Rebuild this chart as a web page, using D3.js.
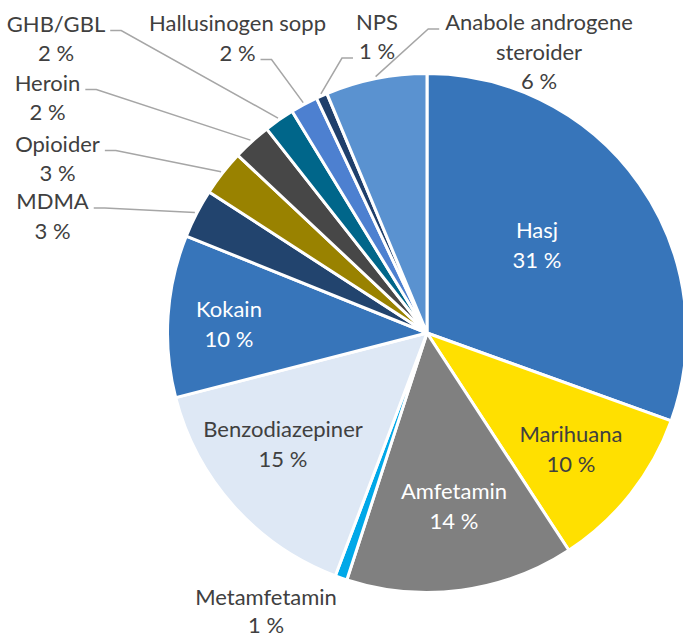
<!DOCTYPE html>
<html>
<head>
<meta charset="utf-8">
<script src="https://cdn.jsdelivr.net/npm/d3@7"></script>
<style>
  html, body { margin: 0; padding: 0; background: #ffffff; }
  svg { display: block; }
  text { font-family: "Lato", "Open Sans", sans-serif; }
</style>
</head>
<body>
<script>
// ---- data ----
const categories = ["Hasj", "Marihuana", "Amfetamin", "Metamfetamin", "Benzodiazepiner", "Kokain",
  "MDMA", "Opioider", "Heroin", "GHB/GBL", "Hallusinogen sopp", "NPS", "Anabole androgene steroider"];
const values = [30.5, 10.3, 14.2, 0.75, 15.25, 10.1, 3.05, 2.86, 2.4, 1.9, 1.7, 0.7, 6.3];
const percentLabels = ["31 %", "10 %", "14 %", "1 %", "15 %", "10 %", "3 %", "3 %", "2 %", "2 %", "2 %", "1 %", "6 %"];
const nameLines = [["Hasj"], ["Marihuana"], ["Amfetamin"], ["Metamfetamin"], ["Benzodiazepiner"], ["Kokain"],
  ["MDMA"], ["Opioider"], ["Heroin"], ["GHB/GBL"], ["Hallusinogen sopp"], ["NPS"], ["Anabole androgene", "steroider"]];

// ---- styles / layout ----
const colors = ["#3775BA", "#FFE000", "#808080", "#00A8E8", "#DEE8F5", "#3775BA",
  "#22446E", "#998200", "#474747", "#00668A", "#4D80D0", "#1F3F6B", "#5A92D0"];
const textColors = ["#ffffff", "#404040", "#ffffff", "#404040", "#404040", "#ffffff",
  "#404040", "#404040", "#404040", "#404040", "#404040", "#404040", "#404040"];
// label anchor: centre x, first baseline y; leader: which line the leader attaches to and on which side
const labelLayout = [
  { x: 537, y: 238 },
  { x: 571, y: 442 },
  { x: 454, y: 499 },
  { x: 266, y: 605, lh: 28 },
  { x: 283, y: 437 },
  { x: 229, y: 317 },
  { x: 52.5, y: 209, leaderLine: 0, side: "right" },
  { x: 57.5, y: 151.5, leaderLine: 0, side: "right" },
  { x: 47.5, y: 90.5, leaderLine: 0, side: "right" },
  { x: 56, y: 31.5, leaderLine: 0, side: "right" },
  { x: 237.5, y: 31, leaderLine: 1, side: "right" },
  { x: 377, y: 29.5, leaderLine: 1, side: "left" },
  { x: 539, y: 30, leaderLine: 0, side: "left" }
];

const W = 683, H = 639;
const cx = 427, cy = 333, R = 259.5;
const fontSize = 22, lineH = 29.5;

const svg = d3.select("body").append("svg").attr("width", W).attr("height", H);
const g = svg.append("g").attr("transform", `translate(${cx},${cy})`);

const pie = d3.pie().sort(null).value(d => d);
const arcs = pie(values);
const arc = d3.arc().innerRadius(0).outerRadius(R);

g.selectAll("path.slice").data(arcs).join("path")
  .attr("class", "slice")
  .attr("d", arc)
  .attr("fill", (d, i) => colors[i])
  .attr("stroke", "#ffffff")
  .attr("stroke-width", 3)
  .attr("stroke-linejoin", "round");

// labels
const labelG = svg.append("g");
arcs.forEach((a, i) => {
  const L = labelLayout[i];
  const lh = L.lh || lineH;
  const lines = nameLines[i].concat([percentLabels[i]]);
  const t = labelG.append("text")
    .attr("text-anchor", "middle")
    .attr("font-size", fontSize)
    .attr("fill", textColors[i]);
  const spans = lines.map((s, k) => t.append("tspan")
    .attr("x", L.x).attr("y", L.y + k * lh).text(s));

  if (L.side) {
    const node = spans[L.leaderLine].node();
    const w = node.getComputedTextLength();
    const ly = L.y + L.leaderLine * lh - 1;
    const x0 = L.side === "right" ? L.x + w / 2 + 5 : L.x - w / 2 - 6;
    const x1 = L.side === "right" ? x0 + 11 : x0 - 11;
    const mid = (a.startAngle + a.endAngle) / 2;
    const pr = R + 2;
    const px = cx + pr * Math.sin(mid), py = cy - pr * Math.cos(mid);
    labelG.append("polyline")
      .attr("points", `${x0},${ly} ${x1},${ly} ${px},${py}`)
      .attr("fill", "none")
      .attr("stroke", "#A6A6A6")
      .attr("stroke-width", 1.5);
  }
});
</script>
</body>
</html>
